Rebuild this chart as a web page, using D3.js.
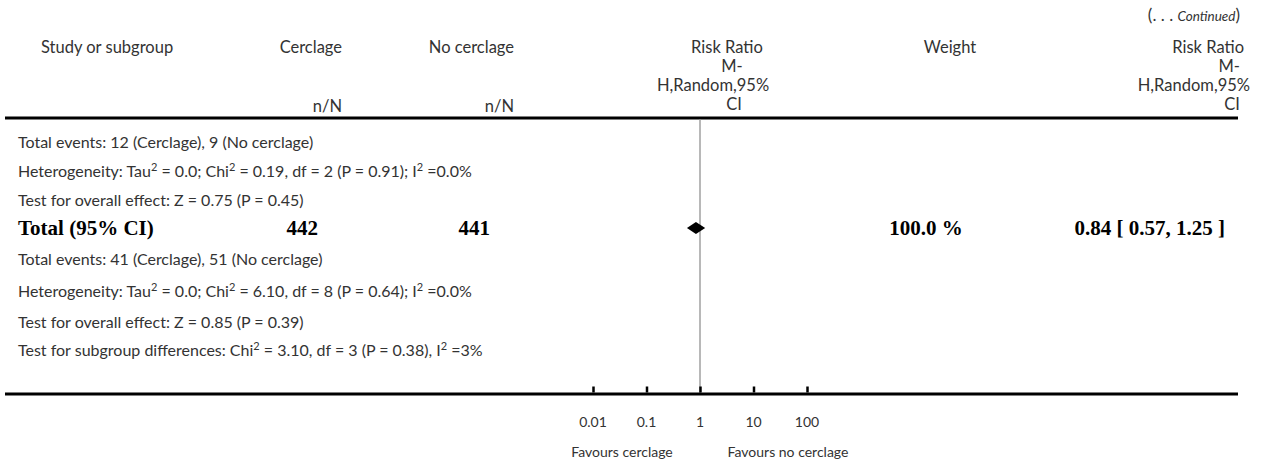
<!DOCTYPE html>
<html>
<head>
<meta charset="utf-8">
<script src="https://cdn.jsdelivr.net/npm/d3@7"></script>
<style>
  html, body { margin: 0; padding: 0; background: #fff; }
  svg { font-family: Lato, "Open Sans", sans-serif; }
</style>
</head>
<body>
<svg id="chart" width="1266" height="463"></svg>
<script>
// Pooled result of the cerclage meta-analysis (continued page)
const groups = ["Cerclage", "No cerclage"];
const totals = [442, 441];
const pooled = { est: 0.84, lo: 0.57, hi: 1.25 };
const pooledWeight = 100.0;

const tickValues = [0.01, 0.1, 1, 10, 100];
const tickLabels = ["0.01", "0.1", "1", "10", "100"];

// Footnote lines; superscripts marked with ^…^
const notesA = [
  "Total events: 12 (Cerclage), 9 (No cerclage)",
  "Heterogeneity: Tau^2^ = 0.0; Chi^2^ = 0.19, df = 2 (P = 0.91); I^2^ =0.0%",
  "Test for overall effect: Z = 0.75 (P = 0.45)"
];
const notesB = [
  "Total events: 41 (Cerclage), 51 (No cerclage)",
  "Heterogeneity: Tau^2^ = 0.0; Chi^2^ = 6.10, df = 8 (P = 0.64); I^2^ =0.0%",
  "Test for overall effect: Z = 0.85 (P = 0.39)",
  "Test for subgroup differences: Chi^2^ = 3.10, df = 3 (P = 0.38), I^2^ =3%"
];

const svg = d3.select("#chart");
const ink = "#333";
const fs = 16;      // footnote text
const hs = 16.5;    // header text
const x = d3.scaleLog().domain([0.01, 100]).range([593, 807]);

const topY = 118, botY = 394;
const rowBase = [148, 177, 206, 235, 265, 297, 328, 356];

function hText(str, xp, yp, anchor, size) {
  return svg.append("text").attr("x", xp).attr("y", yp)
    .attr("text-anchor", anchor).attr("font-size", size || hs)
    .attr("fill", ink).text(str);
}

// header block
const cont = svg.append("text").attr("x", 1240).attr("y", 21)
  .attr("text-anchor", "end").attr("fill", ink).attr("font-size", 17);
cont.append("tspan").text("(. . . ");
cont.append("tspan").attr("font-style", "italic").attr("font-size", 13.5).text("Continued");
cont.append("tspan").text(")");

hText("Study or subgroup", 41, 53, "start");
hText(groups[0], 342, 53, "end");
hText(groups[1], 514, 53, "end");
hText("n/N", 342, 112, "end");
hText("n/N", 514, 112, "end");

const rrLines = ["Risk Ratio", "M-", "H,Random,95%", "CI"];
const rrBase = [53, 72, 91, 110];
const midCx = [727, 732, 713, 734];
rrLines.forEach((s, i) => hText(s, midCx[i], rrBase[i], "middle"));
hText("Weight", 950, 53, "middle");
const rightEnd = [1244, 1240, 1250, 1240];
rrLines.forEach((s, i) => hText(s, rightEnd[i], rrBase[i], "end"));

// rules
svg.append("line").attr("x1", 5).attr("x2", 1238).attr("y1", topY).attr("y2", topY)
  .attr("stroke", "#000").attr("stroke-width", 3);
svg.append("line").attr("x1", x(1)).attr("x2", x(1)).attr("y1", topY + 1.5).attr("y2", botY)
  .attr("stroke", "#a0a0a0").attr("stroke-width", 1.5);

// footnote writer
function note(str, yp) {
  const t = svg.append("text").attr("x", 18).attr("y", yp)
    .attr("font-size", fs).attr("fill", ink);
  str.split("^").forEach((part, i) => {
    if (!part) return;
    if (i % 2 === 1) {
      t.append("tspan").attr("font-size", 11).attr("dy", -6).text(part);
    } else {
      t.append("tspan").attr("dy", i > 0 ? 6 : 0).text(part);
    }
  });
}
notesA.forEach((s, i) => note(s, rowBase[i]));

// pooled total row
const totBase = rowBase[3];
const totY = totBase - 7;
function bold(str, xp, anchor) {
  svg.append("text").attr("x", xp).attr("y", totBase).attr("text-anchor", anchor)
    .attr("font-family", "'Liberation Serif', 'Times New Roman', serif")
    .attr("font-weight", "bold").attr("font-size", 21).attr("fill", "#000").text(str);
}
bold("Total (95% CI)", 18, "start");
bold(String(totals[0]), 318, "end");
bold(String(totals[1]), 490, "end");
bold(pooledWeight.toFixed(1) + " %", 926, "middle");
bold(`${pooled.est.toFixed(2)} [ ${pooled.lo.toFixed(2)}, ${pooled.hi.toFixed(2)} ]`, 1225, "end");

const dh = 6;
svg.append("path")
  .attr("d", `M${x(pooled.lo)},${totY} L${x(pooled.est)},${totY - dh} L${x(pooled.hi)},${totY} L${x(pooled.est)},${totY + dh} Z`)
  .attr("fill", "#000");

notesB.forEach((s, i) => note(s, rowBase[4 + i]));

// log axis
svg.append("line").attr("x1", 5).attr("x2", 1238).attr("y1", botY).attr("y2", botY)
  .attr("stroke", "#000").attr("stroke-width", 3);
const axis = d3.axisTop(x).tickValues(tickValues).tickSize(6).tickFormat("");
const ag = svg.append("g").attr("transform", `translate(0,${botY - 1.5})`).call(axis);
ag.select(".domain").remove();
ag.selectAll(".tick line").attr("stroke", "#000").attr("stroke-width", 2.5);

tickValues.forEach((v, i) => {
  svg.append("text").attr("x", x(v)).attr("y", 427).attr("text-anchor", "middle")
    .attr("font-size", 14).attr("fill", ink).text(tickLabels[i]);
});
hText("Favours cerclage", 622, 457, "middle", 14);
hText("Favours no cerclage", 788, 457, "middle", 14);
</script>
</body>
</html>
